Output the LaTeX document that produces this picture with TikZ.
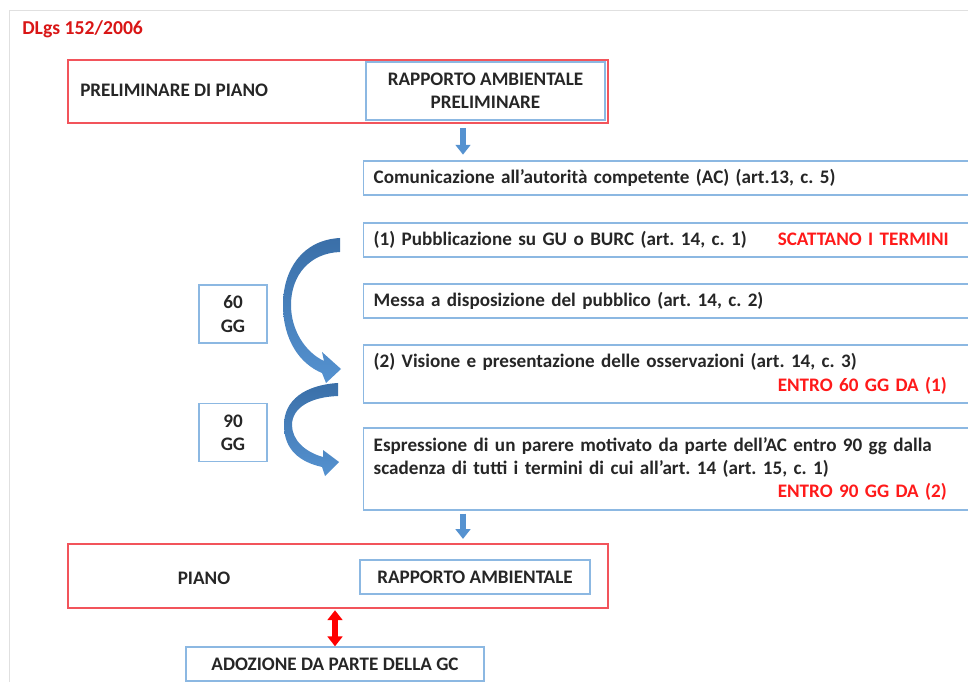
\documentclass[tikz,border=0pt]{standalone}
\usepackage{fontspec}
\setmainfont{Carlito}
\usetikzlibrary{positioning,arrows.meta}
\definecolor{boxred}{HTML}{F2545B}
\definecolor{boxblue}{HTML}{8CB8E2}
\definecolor{txtred}{HTML}{FF1A1A}
\definecolor{arrblue}{HTML}{5592D0}
\definecolor{arrdark}{HTML}{3A6FA8}
\frenchspacing

\begin{document}
\begin{tikzpicture}[x=0.025cm,y=-0.025cm,
  font=\fontsize{13.6}{16.6}\selectfont\bfseries,text=black!85,
  redbox/.style={draw=boxred,line width=1.2pt,minimum width=13.5cm},
  bluebox/.style={draw=boxblue,line width=1pt,align=center},
  stepbox/.style={draw=boxblue,line width=1pt,minimum width=15.675cm,text width=15.175cm,
    inner xsep=0.25cm,align=left,anchor=west},
  down/.style={draw=arrblue,line width=4.3pt,-{Triangle[width=10.5pt,length=7pt]}},
  both/.style={draw=red,line width=4.3pt,{Triangle[width=10.5pt,length=7pt]}-{Triangle[width=10.5pt,length=7pt]}},
  curvearrow/.style={top color=arrdark,bottom color=arrblue}]
\useasboundingbox (0,0) rectangle (968,682);
\draw[black!12] (9,690) |- (980,10);
\node[anchor=west,inner xsep=0pt,text=txtred!85!black,font=\fontsize{14}{16.6}\selectfont\bfseries] (title) at (22,29) {DLgs 152/2006};

% preliminare di piano
\node[redbox,minimum height=1.575cm] (prel) at (338,91.5) {};
\node[anchor=west,inner xsep=0pt] (prelt) at (80,90) {PRELIMINARE DI PIANO};
\node[bluebox,minimum width=5.975cm,minimum height=1.45cm] (rap) at (485.5,91) {RAPPORTO AMBIENTALE\\PRELIMINARE};

% fasi
\node[stepbox,minimum height=0.85cm] (com) at (363,178) {Comunicazione all’autorità competente (AC) (art.13, c. 5)};
\node[stepbox,minimum height=0.85cm] (pub) at (363,240)
  {\makebox[10.1cm][l]{(1) Pubblicazione su GU o BURC (art. 14, c. 1)}\textcolor{txtred}{SCATTANO I TERMINI}};
\node[stepbox,minimum height=0.85cm] (mes) at (363,301) {Messa a disposizione del pubblico (art. 14, c. 2)};
\node[stepbox,minimum height=1.45cm] (vis) at (363,374)
  {(2) Visione e presentazione delle osservazioni (art. 14, c. 3)\\\hspace*{10.1cm}\textcolor{txtred}{ENTRO 60 GG DA (1)}};
\node[stepbox,minimum height=2.05cm] (esp) at (363,469)
  {Espressione di un parere motivato da parte dell’AC entro 90 gg dalla\\
   scadenza di tutti i termini di cui all’art. 14 (art. 15, c. 1)\\
   \hspace*{10.1cm}\textcolor{txtred}{ENTRO 90 GG DA (2)}};

% termini
\node[bluebox,minimum width=1.7cm,minimum height=1.45cm] (g60) at (233,314) {60\\GG};
\node[bluebox,minimum width=1.7cm,minimum height=1.45cm] (g90) at (233,432.5) {90\\GG};

% piano
\node[redbox,minimum height=1.6cm] (piano) at (338,576) {};
\node (pianot) at (204,578) {PIANO};
\node[bluebox,minimum width=5.75cm,minimum height=0.85cm] (rapf) at (475,577) {RAPPORTO AMBIENTALE};
\node[bluebox,minimum width=7.45cm,minimum height=0.85cm] (gc) at (335,664) {ADOZIONE DA PARTE DELLA GC};

\coordinate (ax) at (463,0);
\draw[down,shorten <=3pt,shorten >=4pt] (prel.south -| ax) -- (com.north -| ax);
\draw[down,shorten <=2pt,shorten >=3pt] (esp.south -| ax) -- (piano.north -| ax);
\draw[both,shorten <=1pt] (piano.south -| gc.north) -- (gc.north);

% frecce curve
\shade[curvearrow] (340,238) .. controls (302,240) and (283,270) .. (283,305)
  .. controls (283,340) and (300,364) .. (322,373) -- (326,383) -- (341,369) -- (322,352) -- (324,361)
  .. controls (305,352) and (291,330) .. (291,305) .. controls (291,275) and (310,253) .. (340,252) -- cycle;
\shade[curvearrow] (338,383) .. controls (305,385) and (284,400) .. (284,425)
  .. controls (284,450) and (300,462) .. (322,467) -- (325,476) -- (339,462) -- (323,450) -- (323,457)
  .. controls (305,452) and (292,440) .. (292,425) .. controls (292,408) and (310,397) .. (338,396) -- cycle;
\end{tikzpicture}
\end{document}
